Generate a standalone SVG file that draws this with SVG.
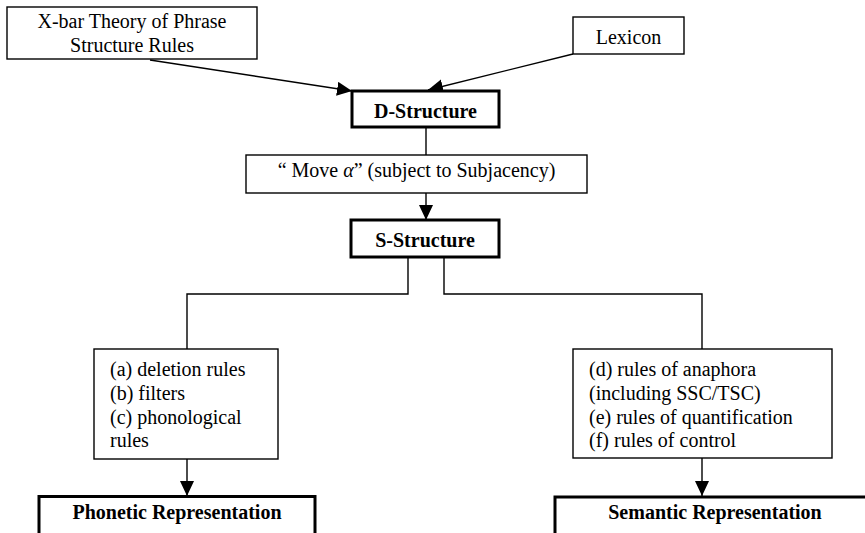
<svg xmlns="http://www.w3.org/2000/svg" width="865" height="533" viewBox="0 0 865 533" font-family="Liberation Serif, DejaVu Serif, serif">
  <style>
    text { font-family: 'Liberation Serif', 'DejaVu Serif', serif; font-size: 20px; fill: #000; }
    .b { font-weight: bold; }
    .c { text-anchor: middle; }
    .thin { fill: #fff; stroke: #000; stroke-width: 1.4; }
    .thick { fill: #fff; stroke: #000; stroke-width: 3; }
    .line { fill: none; stroke: #000; stroke-width: 1.4; }
  </style>
  <defs>
    <marker id="arrow" markerUnits="userSpaceOnUse" markerWidth="16" markerHeight="16" refX="15" refY="7" orient="auto">
      <path d="M0,0 L15,7 L0,14 Z" fill="#000"/>
    </marker>
  </defs>
  <rect width="865" height="533" fill="#fff"/>

  <g id="connectors">
    <line class="line" x1="150" y1="60" x2="352" y2="91" marker-end="url(#arrow)"/>
    <line class="line" x1="573" y1="54" x2="428" y2="90" marker-end="url(#arrow)"/>
    <line class="line" x1="426" y1="127" x2="426" y2="155"/>
    <line class="line" x1="426" y1="193" x2="426" y2="220" marker-end="url(#arrow)"/>
    <polyline class="line" points="408,257 408,294 187,294 187,349"/>
    <polyline class="line" points="444,257 444,294 702,294 702,349"/>
    <line class="line" x1="187" y1="459" x2="187" y2="496" marker-end="url(#arrow)"/>
    <line class="line" x1="702" y1="458" x2="702" y2="496" marker-end="url(#arrow)"/>
  </g>

  <g id="xbar">
    <rect class="thin" x="7" y="7" width="250" height="52"/>
    <text class="c" x="132" y="28">X-bar Theory of Phrase</text>
    <text class="c" x="132" y="52">Structure Rules</text>
  </g>

  <g id="lexicon">
    <rect class="thin" x="573" y="17" width="111" height="37"/>
    <text class="c" x="628.5" y="44">Lexicon</text>
  </g>

  <g id="d-structure">
    <rect class="thick" x="352" y="91" width="147" height="36"/>
    <text class="c b" x="425.5" y="118">D-Structure</text>
  </g>

  <g id="move-alpha">
    <rect class="thin" x="246" y="155" width="341" height="38"/>
    <text class="c" x="416.5" y="177">“ Move <tspan font-style="italic">α</tspan>” (subject to Subjacency)</text>
  </g>

  <g id="s-structure">
    <rect class="thick" x="351" y="220" width="148" height="37"/>
    <text class="c b" x="425" y="247">S-Structure</text>
  </g>

  <g id="pf-rules">
    <rect class="thin" x="94" y="349" width="184" height="110"/>
    <text x="110" y="376">(a) deletion rules</text>
    <text x="110" y="400">(b) filters</text>
    <text x="110" y="424">(c) phonological</text>
    <text x="110" y="447">rules</text>
  </g>

  <g id="lf-rules">
    <rect class="thin" x="573" y="349" width="259" height="109"/>
    <text x="589" y="376">(d) rules of anaphora</text>
    <text x="589" y="400">(including SSC/TSC)</text>
    <text x="589" y="424">(e) rules of quantification</text>
    <text x="589" y="447">(f) rules of control</text>
  </g>

  <g id="phonetic">
    <rect class="thick" x="39" y="496.5" width="276" height="45"/>
    <text class="c b" x="177" y="519">Phonetic Representation</text>
  </g>

  <g id="semantic">
    <rect class="thick" x="555" y="497" width="320" height="45"/>
    <text class="c b" x="715" y="519">Semantic Representation</text>
  </g>
</svg>
